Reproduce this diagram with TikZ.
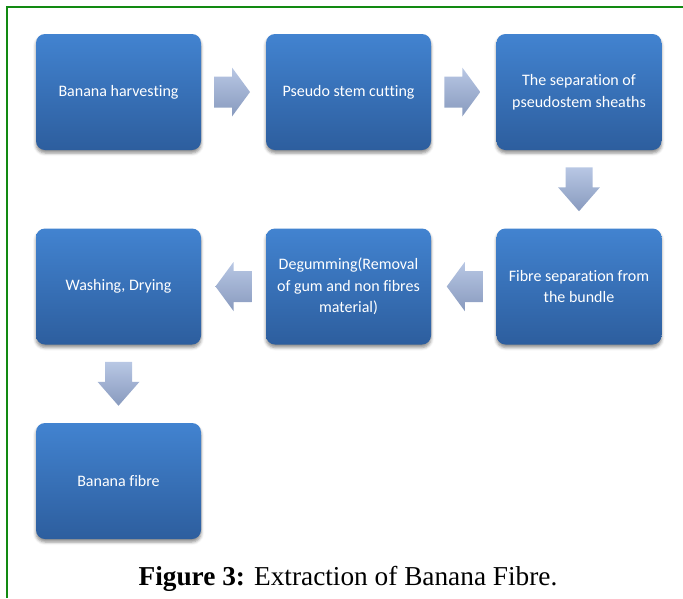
\documentclass[tikz,border=0pt]{standalone}
\usepackage{fontspec}
\setmainfont{Liberation Serif}
\newfontfamily\boxfont[Ligatures={NoCommon}]{Carlito}
\usetikzlibrary{calc,shadows.blur}
\definecolor{boxtop}{RGB}{66,131,208}
\definecolor{boxbot}{RGB}{45,94,158}
\definecolor{arrtop}{RGB}{184,199,228}
\definecolor{arrbot}{RGB}{136,154,190}
\definecolor{framegreen}{RGB}{18,138,18}
\tikzset{
  stepbox/.style={rectangle, rounded corners=9pt, minimum width=165pt, minimum height=116pt,
    top color=boxtop, bottom color=boxbot, draw=none, text=white, align=center,
    font=\boxfont\fontsize{16}{21.5}\selectfont,
    blur shadow={shadow xshift=0pt, shadow yshift=-3pt, shadow blur radius=3pt, shadow opacity=45}},
  blockarr/.style={top color=arrtop, bottom color=arrbot, draw=none},
  frameline/.style={draw=framegreen, line width=2pt},
  captionstyle/.style={font=\fontsize{27.3}{32}\selectfont, text=black, inner sep=0pt}
}
\begin{document}
\begin{tikzpicture}[x=1pt,y=-1pt]
\useasboundingbox (0,0) rectangle (683,598);
\draw[frameline] (683,7) -- (7,7) -- (7,598);
% row 1
\node[stepbox] (b1) at (118.5,92) {Banana harvesting};
\node[stepbox] (b2) at (348.5,92) {Pseudo stem cutting};
\node[stepbox] (b3) at (579,92) {The separation of\\pseudostem sheaths};
% row 2
\node[stepbox] (b6) at (579,286.5) {Fibre separation from\\the bundle};
\node[stepbox] (b5) at (348.5,286.5) {Degumming(Removal\\of gum and non fibres\\material)};
\node[stepbox] (b4) at (118.5,286.5) {Washing, Drying};
% row 3
\node[stepbox] (b7) at (118.5,481) {Banana fibre};
% arrow anchors
\coordinate (m12) at ($(b1.east)!0.5!(b2.west)+(-1.5,0)$);
\coordinate (m23) at ($(b2.east)!0.5!(b3.west)+(-1.5,0)$);
\coordinate (m36) at ($(b3.south)!0.5!(b6.north)$);
\coordinate (m65) at ($(b6.west)!0.5!(b5.east)+(1,0)$);
\coordinate (m54) at ($(b5.west)!0.5!(b4.east)+(0,0)$);
\coordinate (m47) at ($(b4.south)!0.5!(b7.north)$);
% right arrows
\path[blockarr,shift={(m12)}] (-18,-15.5) -- (0,-15.5) -- (0,-24.5) -- (18,0) -- (0,24.5) -- (0,15.5) -- (-18,15.5) -- cycle;
\path[blockarr,shift={(m23)}] (-18,-15.5) -- (0,-15.5) -- (0,-24.5) -- (18,0) -- (0,24.5) -- (0,15.5) -- (-18,15.5) -- cycle;
% left arrows
\path[blockarr,shift={(m65)}] (18,-15.5) -- (0,-15.5) -- (0,-24.5) -- (-18,0) -- (0,24.5) -- (0,15.5) -- (18,15.5) -- cycle;
\path[blockarr,shift={(m54)}] (18,-15.5) -- (0,-15.5) -- (0,-24.5) -- (-18,0) -- (0,24.5) -- (0,15.5) -- (18,15.5) -- cycle;
% down arrows
\path[blockarr,shift={(m36)}] (-13.5,-22) -- (13.5,-22) -- (13.5,-2) -- (21,-2) -- (0,22) -- (-21,-2) -- (-13.5,-2) -- cycle;
\path[blockarr,shift={(m47)}] (-13.5,-22) -- (13.5,-22) -- (13.5,-2) -- (21,-2) -- (0,22) -- (-21,-2) -- (-13.5,-2) -- cycle;
% caption
\node[captionstyle, anchor=base] (cap) at (348,585) {\textbf{Figure 3:} Extraction of Banana Fibre.};
\end{tikzpicture}
\end{document}
